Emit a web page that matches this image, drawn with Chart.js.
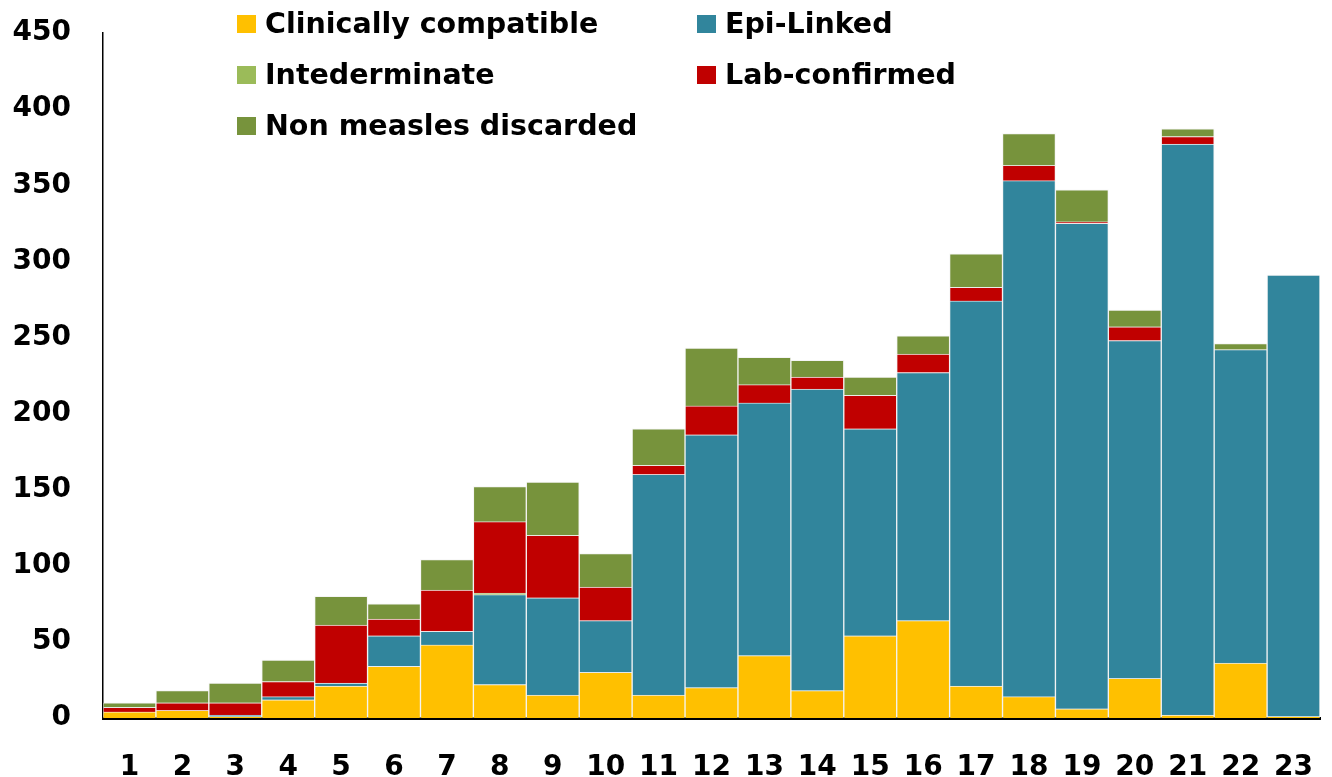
<!DOCTYPE html>
<html>
<head>
<meta charset="utf-8">
<script src="https://cdn.jsdelivr.net/npm/chart.js@4/dist/chart.umd.min.js"></script>
<style>
  html, body { margin: 0; padding: 0; background: #fff; }
  #wrap { position: relative; width: 1332px; height: 777px; }
  #legend { position: absolute; left: 0; top: 0; font-family: "DejaVu Sans", sans-serif; font-weight: bold; font-size: 28.5px; color: #000; }
  .item { position: absolute; white-space: nowrap; line-height: 32px; }
  .box { display: inline-block; width: 19px; height: 18px; margin-right: 9px; vertical-align: 0px; }
</style>
</head>
<body>
<div id="wrap">
  <canvas id="measlesChart" width="1332" height="777"></canvas>
  <div id="legend"></div>
</div>
<script>
const weeks = ["1","2","3","4","5","6","7","8","9","10","11","12","13","14","15","16","17","18","19","20","21","22","23"];
const clinical   = [4, 5, 1, 12, 21, 34, 48, 22, 15, 30, 15, 20, 41, 18, 54, 64, 21, 14, 6, 26, 2, 36, 1];
const epiLinked  = [0, 0, 1, 2, 2, 20, 9, 59, 64, 34, 145, 166, 166, 198, 136, 163, 253, 339, 319, 222, 375, 206, 290];
const indeterm   = [0, 0, 0, 0, 0, 0, 0, 1, 0, 0, 0, 0, 0, 0, 0, 0, 0, 0, 0, 0, 0, 0, 0];
const labConf    = [3, 5, 8, 10, 38, 11, 27, 47, 41, 22, 6, 19, 12, 8, 22, 12, 9, 10, 1, 9, 5, 0, 0];
const discarded  = [3, 8, 13, 14, 19, 10, 20, 23, 35, 22, 24, 38, 18, 11, 12, 12, 22, 21, 21, 11, 5, 4, 0];
const yTicks = [0, 50, 100, 150, 200, 250, 300, 350, 400, 450];

const series = [
  { label: "Clinically compatible", data: clinical, color: "#FFC000" },
  { label: "Epi-Linked", data: epiLinked, color: "#31859C" },
  { label: "Intederminate", data: indeterm, color: "#9BBB59" },
  { label: "Lab-confirmed", data: labConf, color: "#C00000" },
  { label: "Non measles discarded", data: discarded, color: "#77933C" },
];

const tickFont = { family: "DejaVu Sans", weight: "bold", size: 28 };

const ctx = document.getElementById("measlesChart");
new Chart(ctx, {
  type: "bar",
  data: {
    labels: weeks,
    datasets: series.map(s => ({
      label: s.label,
      data: s.data,
      backgroundColor: s.color,
      borderColor: "rgba(235,235,235,0.5)",
      borderWidth: 1,
      categoryPercentage: 1.0,
      barPercentage: 1.0,
    })),
  },
  options: {
    responsive: false,
    animation: false,
    layout: { padding: { top: 33, right: 12, left: 0, bottom: 0 } },
    plugins: { legend: { display: false }, tooltip: { enabled: false } },
    scales: {
      x: {
        stacked: true,
        grid: { display: false, drawTicks: false },
        border: { display: true, color: "#000", width: 3 },
        ticks: { color: "#000", font: tickFont, padding: 33, maxRotation: 0, autoSkip: false },
        afterFit: (scale) => { scale.height = 59; scale.paddingLeft = 0; scale.paddingRight = 0; },
      },
      y: {
        stacked: true,
        min: 0,
        max: 450,
        afterBuildTicks: (scale) => { scale.ticks = yTicks.map(v => ({ value: v })); },
        grid: { display: false, drawTicks: false },
        border: { display: true, color: "#000", width: 1.5 },
        ticks: { color: "#000", font: tickFont, padding: 32 },
        afterFit: (scale) => { scale.width = 103; scale.paddingTop = 0; scale.paddingBottom = 0; },
      },
    },
  },
});

// two-column legend in the top part of the plot
const legendPos = [
  { left: 237, top: 8 }, { left: 697, top: 8 },
  { left: 237, top: 59 }, { left: 697, top: 59 },
  { left: 237, top: 110 },
];
const legend = document.getElementById("legend");
series.forEach((s, i) => {
  const el = document.createElement("div");
  el.className = "item";
  el.style.left = legendPos[i].left + "px";
  el.style.top = legendPos[i].top + "px";
  el.innerHTML = '<span class="box" style="background:' + s.color + '"></span>' + s.label;
  legend.appendChild(el);
});
</script>
</body>
</html>
